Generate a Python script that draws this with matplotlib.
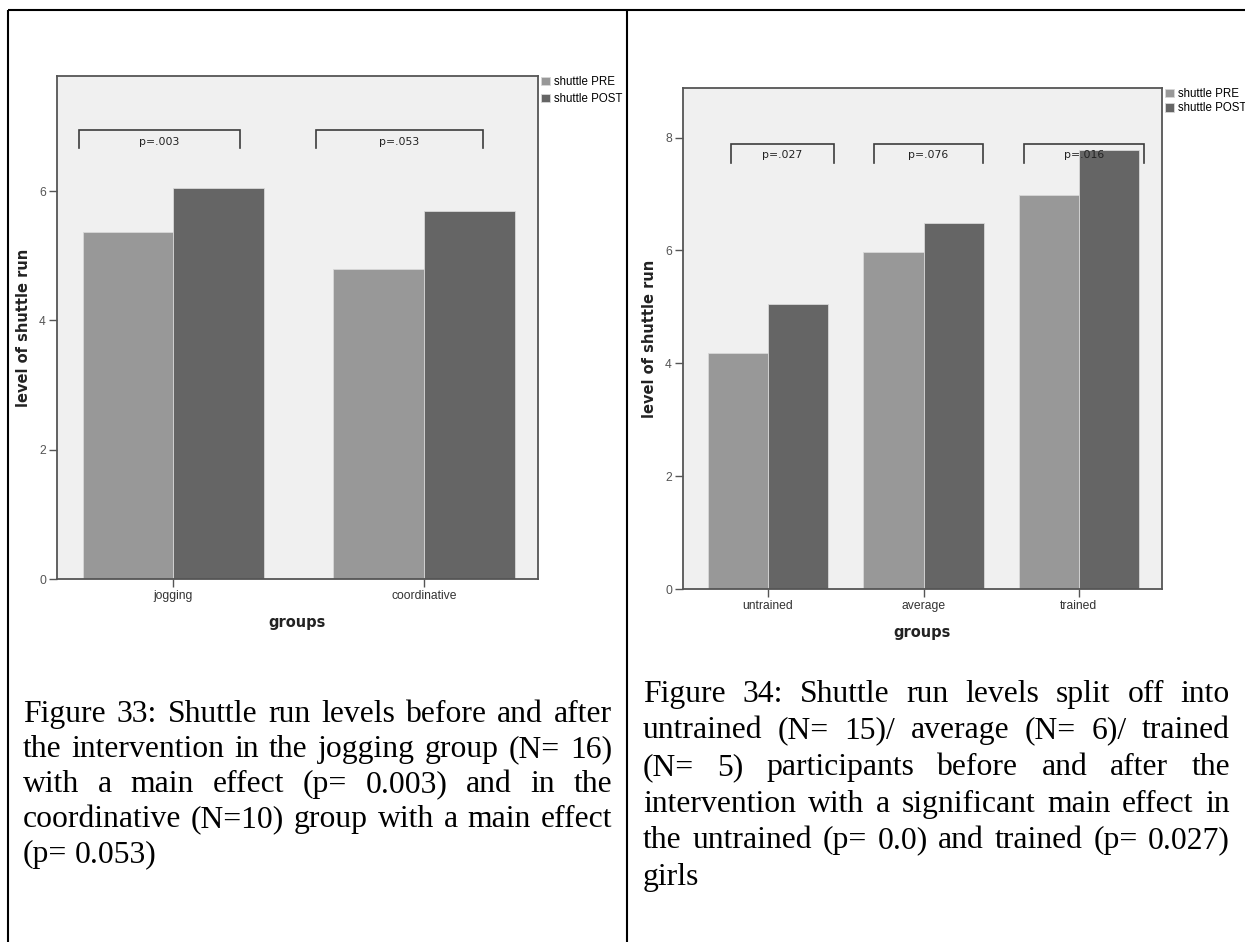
import matplotlib
matplotlib.use("Agg")
import matplotlib.pyplot as plt
from matplotlib.lines import Line2D
import numpy as np

W, H, DPI = 1245, 942, 100

SERIES = ["shuttle PRE", "shuttle POST"]

# left panel: intervention groups
GROUPS_A = ["jogging", "coordinative"]
PRE_A = [5.36, 4.79]
POST_A = [6.04, 5.69]
P_A = ["p=.003", "p=.053"]

# right panel: fitness level groups
GROUPS_B = ["untrained", "average", "trained"]
PRE_B = [4.18, 5.97, 6.98]
POST_B = [5.05, 6.49, 7.78]
P_B = ["p=.027", "p=.076", "p=.016"]

CAPTION_A = [
    "Figure 33: Shuttle run levels before and after",
    "the intervention in the jogging group (N= 16)",
    "with a main effect (p= 0.003) and in the",
    "coordinative (N=10) group with a main effect",
    "(p= 0.053)",
]
CAPTION_B = [
    "Figure 34: Shuttle run levels split off into",
    "untrained (N= 15)/ average (N= 6)/ trained",
    "(N= 5) participants before and after the",
    "intervention with a significant main effect in",
    "the untrained (p= 0.0) and trained (p= 0.027)",
    "girls",
]

PRE_C, POST_C = "#989898", "#656565"
BG = "#f0f0f0"
FRAME = "#555555"


def px(x, y):
    """pixel position (from top-left) -> figure fraction"""
    return x / W, 1 - y / H


def panel(fig, rect, groups, pre, post, pvals, spans, bracket_y, text_y,
          ylim, xlim, width, yticks, label_spacing):
    ax = fig.add_axes(rect)
    ax.set_facecolor(BG)
    x = np.arange(len(groups))
    b1 = ax.bar(x - width / 2, pre, width, color=PRE_C, edgecolor="#d8d8d8", lw=0.6, zorder=2)
    b2 = ax.bar(x + width / 2, post, width, color=POST_C, edgecolor="#d8d8d8", lw=0.6, zorder=2)

    lo, hi = bracket_y
    for (a, b), p in zip(spans, pvals):
        ax.plot([a, a, b, b], [lo, hi, hi, lo], color="#3c3c3c", lw=1.2,
                solid_joinstyle="miter", zorder=4)
        ax.text((a + b) / 2, text_y, p, ha="center", va="center", fontsize=7.8,
                family="DejaVu Sans", color="#222222", zorder=5)

    ax.set_xlim(*xlim)
    ax.set_ylim(*ylim)
    ax.set_xticks(x)
    ax.set_xticklabels(groups, family="Liberation Sans", fontsize=8.7, color="#333333")
    ax.set_yticks(yticks)
    ax.set_yticklabels([str(t) for t in yticks], family="Liberation Sans", fontsize=8.7, color="#555555")
    ax.tick_params(axis="both", direction="out", length=5.5, width=1.0, color=FRAME, pad=2.5)
    for s in ax.spines.values():
        s.set_color(FRAME)
        s.set_linewidth(1.3)

    ax.set_xlabel("groups", family="DejaVu Sans", fontweight="bold", fontsize=10.5, color="#222222")
    ax.set_ylabel("level of shuttle run", family="DejaVu Sans", fontweight="bold", fontsize=10.5,
                  color="#222222")
    ax.xaxis.set_label_coords(0.5, -0.0716)
    ax.yaxis.set_label_coords(-0.054, 0.5)

    ax.legend([b1, b2], SERIES, loc="upper left", bbox_to_anchor=(1.006, 1.0), frameon=False,
              prop={"family": "Liberation Sans", "size": 8.3}, handlelength=0.75, handleheight=0.75,
              handletextpad=0.35, labelspacing=label_spacing, borderpad=0, borderaxespad=0)
    return ax


def justified(fig, lines, x0, x1, baselines, size):
    """justified paragraph, last line ragged"""
    r = fig.canvas.get_renderer()
    space = 0.25 * size * DPI / 72
    for i, (line, yb) in enumerate(zip(lines, baselines)):
        words = line.split(" ")
        arts = [fig.text(0, 1 - yb / H, w, family="Liberation Serif", fontsize=size,
                         va="baseline", ha="left", color="black") for w in words]
        widths = [a.get_window_extent(r).width for a in arts]
        if i == len(lines) - 1 or len(words) == 1:
            gap = space
        else:
            gap = (x1 - x0 - sum(widths)) / (len(words) - 1)
        x = x0
        for a, w in zip(arts, widths):
            a.set_x(x / W)
            x += w + gap


def main():
    fig = plt.figure(figsize=(W / DPI, H / DPI), dpi=DPI)

    panel(fig, [57 / W, 1 - 579 / H, 481 / W, 503 / H], GROUPS_A, PRE_A, POST_A, P_A,
          spans=[(-0.377, 0.265), (0.569, 1.236)], bracket_y=(6.66, 6.94), text_y=6.76,
          ylim=(0, 7.78), xlim=(-0.465, 1.455), width=0.363, yticks=[0, 2, 4, 6],
          label_spacing=0.42)
    panel(fig, [683 / W, 1 - 589 / H, 479 / W, 501 / H], GROUPS_B, PRE_B, POST_B, P_B,
          spans=[(-0.238, 0.424), (0.682, 1.383), (1.646, 2.418)], bracket_y=(7.55, 7.89),
          text_y=7.70, ylim=(0, 8.88), xlim=(-0.547, 2.534), width=0.386,
          yticks=[0, 2, 4, 6, 8], label_spacing=0.2)

    # table rules around the two figure cells
    for xs, ys in [((8, W), (10, 10)), ((8, 8), (10, H)), ((627, 627), (10, H))]:
        (xa, ya), (xb, yb) = px(xs[0], ys[0]), px(xs[1], ys[1])
        fig.add_artist(Line2D([xa, xb], [ya, yb], color="black", lw=1.5,
                              solid_capstyle="butt", transform=fig.transFigure))

    justified(fig, CAPTION_A, 23, 612, [722, 757, 792, 827, 862], 22.8)
    justified(fig, CAPTION_B, 643, 1230, [702, 738, 775, 812, 848, 885], 22.8)

    fig.savefig("out.png", dpi=DPI)


if __name__ == "__main__":
    main()
